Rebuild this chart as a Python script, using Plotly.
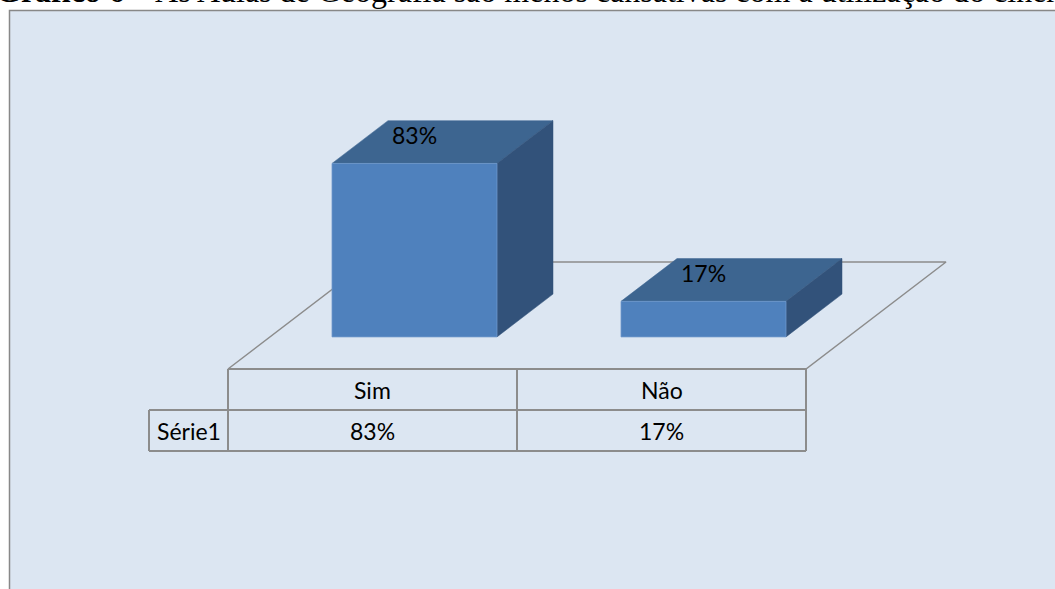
import plotly.graph_objects as go

# ---- data -------------------------------------------------------------
categories = ["Sim", "Não"]
series_name = "Série1"
values = [83, 17]                      # percent
value_labels = ["83%", "17%"]
title_bold = "Gráfico 6"
title_rest = " – As Aulas de Geografia são menos cansativas com a utilização do cinema"

# ---- layout constants --------------------------------------------------
W, H = 1055, 589
PX_PER_PCT = 2.09       # vertical page pixels per percentage point
SLOT_PX = 289.0         # page pixels per category slot
CENTER0_PX = 372.5      # page x of the first category centre (floor front)
FLOOR_PX_Y = 369.0      # page y of the floor front edge

# oblique depth vector of the floor, in axis units
DEPTH_X = 140 / SLOT_PX
DEPTH_Y = 107 / PX_PER_PCT
BAR_W = 165 / SLOT_PX           # bar width as a fraction of the slot
BAR_F0, BAR_F1 = 0.30, 0.70     # bar front/back position inside floor depth
ROW_H = 41 / PX_PER_PCT         # table row height in axis units
STUB_W = 79 / SLOT_PX           # width of the series-name cell

FRONT = "#4F81BD"
TOP = "#3D6590"
SIDE = "#32527A"
GRID = "#8C8C8C"
CHART_BG = "#DCE6F2"
TEXT_FONT = "Lato"

x_range = [(0 - CENTER0_PX) / SLOT_PX, (W - CENTER0_PX) / SLOT_PX]
y_range = [(FLOOR_PX_Y - H) / PX_PER_PCT, FLOOR_PX_Y / PX_PER_PCT]

n = len(categories)
fig = go.Figure()


def poly(xs, ys, color, line_color=None, width=0):
    fig.add_trace(go.Scatter(
        x=list(xs) + [xs[0]], y=list(ys) + [ys[0]],
        mode="lines", fill="toself", fillcolor=color,
        line=dict(color=line_color or color, width=width),
        hoverinfo="skip", showlegend=False))


# ---- floor outline ------------------------------------------------------
fl, fr = -0.5, n - 0.5
fig.add_trace(go.Scatter(
    x=[fl, fr, fr + DEPTH_X, fl + DEPTH_X, fl],
    y=[0, 0, DEPTH_Y, DEPTH_Y, 0],
    mode="lines", line=dict(color=GRID, width=1.5),
    hoverinfo="skip", showlegend=False))

# ---- 3D bars -------------------------------------------------------------
for i, v in enumerate(values):
    ox0, oy0 = BAR_F0 * DEPTH_X, BAR_F0 * DEPTH_Y
    ox1, oy1 = BAR_F1 * DEPTH_X, BAR_F1 * DEPTH_Y
    xl = i - BAR_W / 2 + ox0
    xr = i + BAR_W / 2 + ox0
    yb, yt = oy0, oy0 + v
    dx, dy = ox1 - ox0, oy1 - oy0
    # top face
    poly([xl, xr, xr + dx, xl + dx], [yt, yt, yt + dy, yt + dy], TOP, width=0.5)
    # side face
    poly([xr, xr + dx, xr + dx, xr], [yb, yb + dy, yt + dy, yt], SIDE, width=0.5)
    # front face
    poly([xl, xr, xr, xl], [yb, yb, yt, yt], FRONT, line_color="#6E98CC", width=0.8)
    # value label on the top face
    fig.add_annotation(
        x=i + ox0, y=yt + dy / 2 + 3.2, text=value_labels[i],
        showarrow=False, xanchor="center", yanchor="middle",
        font=dict(family=TEXT_FONT, size=23, color="#000000"))

# ---- data table under the floor --------------------------------------
line = dict(color=GRID, width=2)
r1, r2 = -ROW_H, -2 * ROW_H
stub = fl - STUB_W
fig.add_shape(type="line", x0=fl, x1=fr, y0=0, y1=0, line=line)
fig.add_shape(type="line", x0=stub, x1=fr, y0=r1, y1=r1, line=line)
fig.add_shape(type="line", x0=stub, x1=fr, y0=r2, y1=r2, line=line)
fig.add_shape(type="line", x0=stub, x1=stub, y0=r1, y1=r2, line=line)
for k in range(n + 1):
    fig.add_shape(type="line", x0=fl + k, x1=fl + k, y0=0, y1=r2, line=line)

tfont = dict(family=TEXT_FONT, size=23, color="#000000")
for i, c in enumerate(categories):
    fig.add_annotation(x=i, y=r1 / 2, text=c, showarrow=False, font=tfont)
    fig.add_annotation(x=i, y=(r1 + r2) / 2, text=value_labels[i],
                       showarrow=False, font=tfont)
fig.add_annotation(x=(stub + fl) / 2, y=(r1 + r2) / 2, text=series_name,
                   showarrow=False, font=tfont)

# ---- chart area frame ---------------------------------------------------
fig.add_shape(type="rect", xref="paper", yref="paper",
              x0=9.5 / W, x1=1.02, y0=-0.02, y1=1 - 10.5 / H,
              fillcolor=CHART_BG, line=dict(color="#888888", width=1.5),
              layer="below")

# ---- caption above the chart (runs off the page) --------------------------
fig.add_annotation(
    xref="paper", yref="paper", x=-6 / W, y=1, xanchor="left", yanchor="bottom",
    yshift=-11, showarrow=False,
    text="<b>" + title_bold + "</b>" + title_rest,
    font=dict(family="Liberation Serif", size=32, color="#000000"))

fig.update_layout(
    width=W, height=H, margin=dict(l=0, r=0, t=0, b=0),
    paper_bgcolor="#FFFFFF", plot_bgcolor="rgba(0,0,0,0)",
    showlegend=False,
    xaxis=dict(range=x_range, visible=False, fixedrange=True),
    yaxis=dict(range=y_range, visible=False, fixedrange=True),
)

fig.write_html("out.html")
